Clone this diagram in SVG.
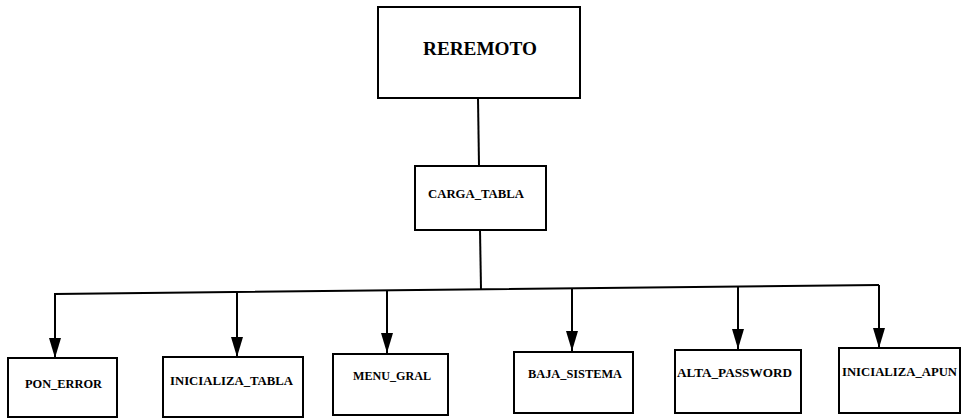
<svg xmlns="http://www.w3.org/2000/svg" width="970" height="419" viewBox="0 0 970 419">
<style>
.box{fill:#fff;stroke:#000;stroke-width:2}
.ln{fill:none;stroke:#000;stroke-width:2}
.t{font-family:"Liberation Serif","Times New Roman",serif;font-weight:bold;fill:#000;text-anchor:middle}
.s{font-size:12px}
</style>
<defs>
<marker id="ah" markerUnits="userSpaceOnUse" viewBox="0 0 20 12" markerWidth="20" markerHeight="12" refX="20" refY="6" orient="auto">
<path d="M0,0 L20,6 L0,12 Z" fill="#000"/>
</marker>
</defs>
<g id="connectors">
<path class="ln" d="M478,98 L479,166"/>
<path class="ln" d="M480,230 L481,289"/>
<path class="ln" d="M55,357 L55,294 L879,285"/>
<path class="ln" d="M237,292 L237,357" marker-end="url(#ah)"/>
<path class="ln" d="M387,290.4 L387,353" marker-end="url(#ah)"/>
<path class="ln" d="M572,288.4 L572,351" marker-end="url(#ah)"/>
<path class="ln" d="M738,286.5 L738,349" marker-end="url(#ah)"/>
<path class="ln" d="M879,285 L879,348" marker-end="url(#ah)"/>
<path class="ln" d="M55,300 L55,358" marker-end="url(#ah)"/>
</g>
<g id="reremoto">
<rect class="box" x="378" y="7" width="202" height="91"/>
<text class="t" x="480" y="55" font-size="19" textLength="114" lengthAdjust="spacingAndGlyphs">REREMOTO</text>
</g>
<g id="carga_tabla">
<rect class="box" x="415" y="166" width="131" height="64"/>
<text class="t" x="476" y="198" font-size="13" textLength="96" lengthAdjust="spacingAndGlyphs">CARGA_TABLA</text>
</g>
<g id="pon_error">
<rect class="box" x="8" y="358" width="109" height="59"/>
<text class="t s" x="63.5" y="388" textLength="77" lengthAdjust="spacingAndGlyphs">PON_ERROR</text>
</g>
<g id="inicializa_tabla">
<rect class="box" x="163" y="357" width="140" height="60"/>
<text class="t s" x="231.5" y="385" textLength="123" lengthAdjust="spacingAndGlyphs">INICIALIZA_TABLA</text>
</g>
<g id="menu_gral">
<rect class="box" x="333" y="354" width="115" height="61"/>
<text class="t s" x="392" y="380" textLength="78" lengthAdjust="spacingAndGlyphs">MENU_GRAL</text>
</g>
<g id="baja_sistema">
<rect class="box" x="514" y="352" width="119" height="61"/>
<text class="t s" x="575" y="378" textLength="94" lengthAdjust="spacingAndGlyphs">BAJA_SISTEMA</text>
</g>
<g id="alta_password">
<rect class="box" x="675" y="350" width="126" height="63"/>
<text class="t s" x="734.5" y="377" textLength="115" lengthAdjust="spacingAndGlyphs">ALTA_PASSWORD</text>
</g>
<g id="inicializa_apun">
<rect class="box" x="839" y="348" width="121" height="65"/>
<text class="t s" x="899.5" y="376" textLength="115" lengthAdjust="spacingAndGlyphs">INICIALIZA_APUN</text>
</g>
</svg>
